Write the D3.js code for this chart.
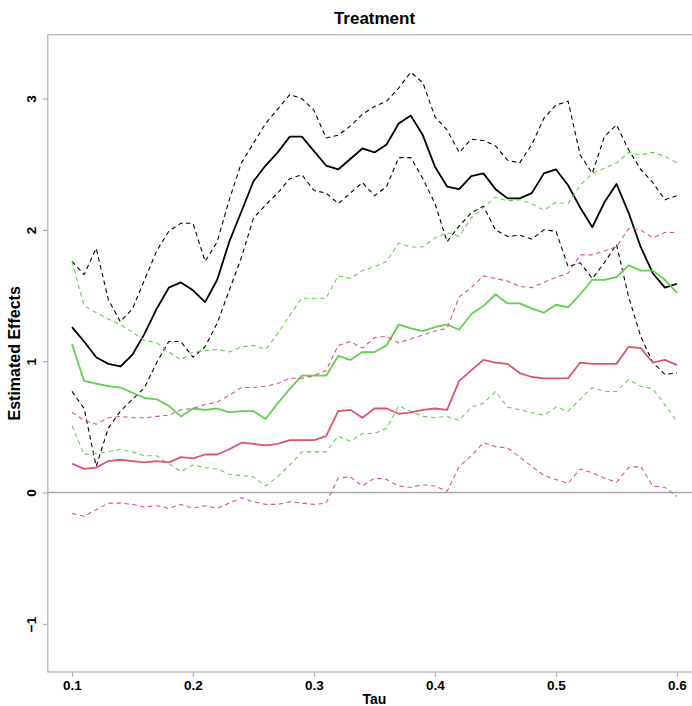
<!DOCTYPE html>
<html>
<head>
<meta charset="utf-8">
<script src="https://cdn.jsdelivr.net/npm/d3@7"></script>
<style>
  body { margin: 0; background: #fff; }
  svg { display: block; font-family: "Liberation Sans", Arial, sans-serif; }
</style>
</head>
<body>
<svg id="chart" width="692" height="706"></svg>
<script>
const tau = [0.10, 0.11, 0.12, 0.13, 0.14, 0.15, 0.16, 0.17, 0.18, 0.19,
  0.20, 0.21, 0.22, 0.23, 0.24, 0.25, 0.26, 0.27, 0.28, 0.29,
  0.30, 0.31, 0.32, 0.33, 0.34, 0.35, 0.36, 0.37, 0.38, 0.39,
  0.40, 0.41, 0.42, 0.43, 0.44, 0.45, 0.46, 0.47, 0.48, 0.49,
  0.50, 0.51, 0.52, 0.53, 0.54, 0.55, 0.56, 0.57, 0.58, 0.59, 0.60]

// black: estimate and band
const blackEst = [1.26, 1.15, 1.03, 0.98, 0.96, 1.05, 1.21, 1.40, 1.56, 1.60,
  1.54, 1.45, 1.62, 1.91, 2.14, 2.37, 2.49, 2.59, 2.71, 2.71,
  2.60, 2.49, 2.46, 2.54, 2.62, 2.59, 2.65, 2.81, 2.87, 2.72,
  2.48, 2.33, 2.31, 2.41, 2.43, 2.31, 2.24, 2.24, 2.28, 2.43,
  2.46, 2.34, 2.17, 2.02, 2.21, 2.35, 2.13, 1.87, 1.67, 1.56, 1.59]
const blackUp = [1.76, 1.66, 1.86, 1.47, 1.30, 1.40, 1.62, 1.84, 1.99, 2.05,
  2.05, 1.76, 1.91, 2.23, 2.51, 2.66, 2.81, 2.92, 3.03, 3.00,
  2.91, 2.70, 2.72, 2.79, 2.88, 2.94, 2.98, 3.08, 3.20, 3.12,
  2.86, 2.76, 2.59, 2.69, 2.68, 2.64, 2.53, 2.51, 2.65, 2.85,
  2.95, 2.98, 2.57, 2.43, 2.71, 2.80, 2.61, 2.46, 2.36, 2.23, 2.26]
const blackLo = [0.77, 0.64, 0.20, 0.49, 0.62, 0.71, 0.80, 0.99, 1.15, 1.15,
  1.03, 1.11, 1.29, 1.54, 1.79, 2.09, 2.19, 2.28, 2.39, 2.42,
  2.30, 2.28, 2.20, 2.28, 2.36, 2.26, 2.33, 2.55, 2.55, 2.39,
  2.20, 1.91, 2.03, 2.13, 2.18, 2.00, 1.95, 1.96, 1.93, 2.00,
  1.99, 1.72, 1.75, 1.63, 1.75, 1.89, 1.49, 1.19, 0.99, 0.90, 0.91]

// green: estimate and band
const greenEst = [1.13, 0.85, 0.83, 0.81, 0.80, 0.76, 0.72, 0.71, 0.66, 0.58,
  0.64, 0.63, 0.64, 0.61, 0.62, 0.62, 0.56, 0.68, 0.79, 0.89,
  0.89, 0.89, 1.04, 1.01, 1.07, 1.07, 1.12, 1.28, 1.25, 1.23,
  1.26, 1.28, 1.24, 1.36, 1.42, 1.51, 1.44, 1.44, 1.40, 1.37,
  1.43, 1.41, 1.51, 1.62, 1.62, 1.64, 1.73, 1.69, 1.69, 1.62, 1.52]
const greenUp = [1.76, 1.42, 1.37, 1.32, 1.28, 1.22, 1.16, 1.14, 1.07, 1.01,
  1.07, 1.08, 1.09, 1.07, 1.11, 1.12, 1.09, 1.21, 1.35, 1.48,
  1.48, 1.48, 1.65, 1.63, 1.69, 1.72, 1.76, 1.90, 1.87, 1.87,
  1.94, 1.98, 1.95, 2.09, 2.17, 2.25, 2.22, 2.23, 2.20, 2.15,
  2.21, 2.20, 2.34, 2.43, 2.47, 2.51, 2.59, 2.57, 2.59, 2.56, 2.51]
const greenLo = [0.51, 0.29, 0.30, 0.31, 0.33, 0.31, 0.28, 0.28, 0.22, 0.16,
  0.21, 0.19, 0.18, 0.14, 0.13, 0.12, 0.05, 0.12, 0.21, 0.31,
  0.31, 0.31, 0.43, 0.39, 0.45, 0.45, 0.49, 0.66, 0.62, 0.58,
  0.57, 0.58, 0.55, 0.65, 0.68, 0.77, 0.65, 0.63, 0.61, 0.59,
  0.65, 0.62, 0.71, 0.80, 0.77, 0.77, 0.86, 0.81, 0.79, 0.67, 0.54]

// red: estimate and band
const redEst = [0.22, 0.18, 0.19, 0.24, 0.25, 0.24, 0.23, 0.24, 0.23, 0.27,
  0.26, 0.29, 0.29, 0.33, 0.38, 0.37, 0.36, 0.37, 0.40, 0.40,
  0.40, 0.43, 0.62, 0.63, 0.57, 0.64, 0.64, 0.60, 0.61, 0.63,
  0.64, 0.63, 0.85, 0.93, 1.01, 0.99, 0.98, 0.91, 0.88, 0.87,
  0.87, 0.87, 0.99, 0.98, 0.98, 0.98, 1.11, 1.10, 0.99, 1.01, 0.97]
const redUp = [0.61, 0.55, 0.52, 0.57, 0.58, 0.57, 0.57, 0.58, 0.59, 0.63,
  0.64, 0.67, 0.69, 0.74, 0.80, 0.80, 0.81, 0.83, 0.87, 0.87,
  0.89, 0.93, 1.12, 1.15, 1.10, 1.18, 1.19, 1.14, 1.17, 1.20,
  1.23, 1.25, 1.49, 1.56, 1.65, 1.63, 1.61, 1.57, 1.56, 1.60,
  1.64, 1.67, 1.81, 1.81, 1.84, 1.87, 2.01, 2.00, 1.94, 1.98, 1.98]
const redLo = [-0.16, -0.18, -0.13, -0.08, -0.08, -0.09, -0.11, -0.10, -0.12, -0.09,
  -0.12, -0.10, -0.12, -0.08, -0.04, -0.07, -0.09, -0.09, -0.07, -0.08,
  -0.09, -0.08, 0.11, 0.12, 0.05, 0.11, 0.10, 0.05, 0.04, 0.06,
  0.05, 0.01, 0.20, 0.28, 0.38, 0.35, 0.34, 0.27, 0.20, 0.13,
  0.10, 0.07, 0.18, 0.15, 0.11, 0.08, 0.19, 0.20, 0.05, 0.04, -0.03]

const xTicks = [0.1, 0.2, 0.3, 0.4, 0.5, 0.6]
const yTicks = [-1, 0, 1, 2, 3]

const svg = d3.select('#chart')
const plot = { left: 47.8, right: 701.2, top: 34.7, bottom: 672 }

const x = d3.scaleLinear().domain([0.08, 0.62]).range([plot.left, plot.right])
const y = d3.scaleLinear().domain([-1.366, 3.486]).range([plot.bottom, plot.top])

// zero line
svg.append('line')
  .attr('x1', plot.left).attr('x2', plot.right)
  .attr('y1', y(0)).attr('y2', y(0))
  .attr('stroke', '#a6a6a6').attr('stroke-width', 1.5)

const line = d3.line().x((d, i) => x(tau[i])).y(d => y(d))

const series = [
  { v: blackUp, color: '#000000', dash: true },
  { v: blackLo, color: '#000000', dash: true },
  { v: blackEst, color: '#000000', dash: false },
  { v: greenUp, color: '#61D04F', dash: true },
  { v: greenLo, color: '#61D04F', dash: true },
  { v: greenEst, color: '#61D04F', dash: false },
  { v: redUp, color: '#DF536B', dash: true },
  { v: redLo, color: '#DF536B', dash: true },
  { v: redEst, color: '#DF536B', dash: false }
]

svg.append('g').selectAll('path').data(series).join('path')
  .attr('d', d => line(d.v))
  .attr('fill', 'none')
  .attr('stroke', d => d.color)
  .attr('stroke-width', d => d.dash ? 1.1 : 1.8)
  .attr('stroke-dasharray', d => d.dash ? '4.5,3.5' : null)
  .attr('stroke-linejoin', 'round')

// frame
svg.append('rect')
  .attr('x', plot.left).attr('y', plot.top)
  .attr('width', plot.right - plot.left).attr('height', plot.bottom - plot.top)
  .attr('fill', 'none').attr('stroke', '#b0b0b0').attr('stroke-width', 1.2)

// x axis
const xAxis = svg.append('g')
  .attr('transform', `translate(0,${plot.bottom})`)
  .call(d3.axisBottom(x).tickValues(xTicks).tickFormat(d3.format('.1f')).tickSize(5).tickPadding(3))
xAxis.select('.domain').remove()
xAxis.selectAll('line').attr('stroke', '#b0b0b0').attr('stroke-width', 1.2)
xAxis.selectAll('text')
  .attr('fill', '#000')
  .style('font-size', '13.5px')
  .style('font-weight', 'bold')

// y axis
const yAxis = svg.append('g')
  .attr('transform', `translate(${plot.left},0)`)
  .call(d3.axisLeft(y).tickValues(yTicks).tickFormat(d3.format('d')).tickSize(5))
yAxis.select('.domain').remove()
yAxis.selectAll('line').attr('stroke', '#b0b0b0').attr('stroke-width', 1.2)
yAxis.selectAll('text')
  .attr('x', null).attr('dy', null)
  .attr('text-anchor', 'middle')
  .attr('transform', 'translate(-12,0) rotate(-90)')
  .attr('fill', '#000')
  .style('font-size', '13.5px')
  .style('font-weight', 'bold')

// titles
svg.append('text')
  .attr('x', (plot.left + plot.right) / 2).attr('y', 24)
  .attr('text-anchor', 'middle')
  .style('font-size', '17px').style('font-weight', 'bold')
  .text('Treatment')

svg.append('text')
  .attr('x', (plot.left + plot.right) / 2).attr('y', 704)
  .attr('text-anchor', 'middle')
  .style('font-size', '14px').style('font-weight', 'bold')
  .text('Tau')

svg.append('text')
  .attr('transform', `translate(20,${(plot.top + plot.bottom) / 2}) rotate(-90)`)
  .attr('text-anchor', 'middle')
  .style('font-size', '16px').style('font-weight', 'bold')
  .text('Estimated Effects')
</script>
</body>
</html>
